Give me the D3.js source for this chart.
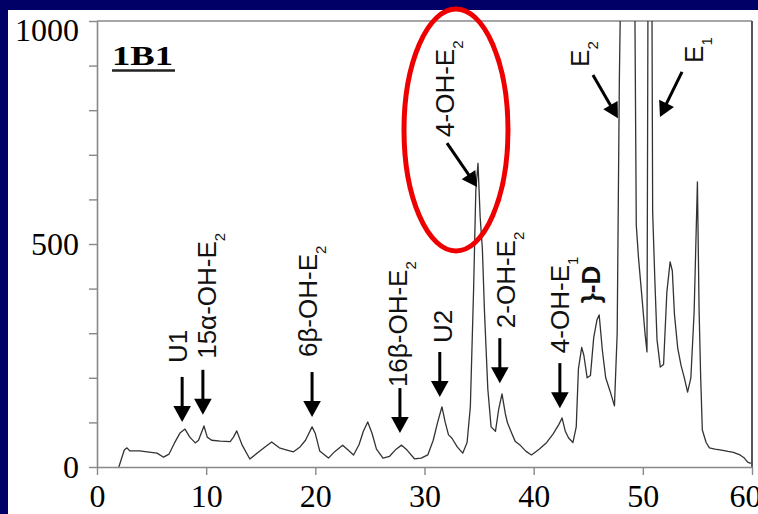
<!DOCTYPE html>
<html>
<head>
<meta charset="utf-8">
<script src="https://cdn.jsdelivr.net/npm/d3@7/dist/d3.min.js"></script>
<style>
  body { margin: 0; background: #000066; }
  svg { display: block; }
</style>
</head>
<body>
<div id="chart"></div>
<script>
// retention time (min) and detector signal
const times = [2.0, 2.5, 2.75, 3.0, 3.9, 4.6, 5.5, 6.1, 6.6, 7.1, 7.6, 8.06, 8.5, 9.0, 9.3, 9.8, 10.1, 10.5, 11.3, 12.2, 12.5, 12.8, 13.3, 14.0,
  15.3, 16.0, 16.7, 17.4, 18.0, 18.6, 19.1, 19.7, 20.0, 20.4, 21.2, 21.8, 22.5, 23.0, 23.5, 24.0, 24.4, 24.8, 25.2, 25.6, 26.2, 26.8,
  27.4, 27.9, 28.4, 29.1, 29.7, 30.3, 30.8, 31.2, 31.6, 31.9, 32.2, 32.5, 33.0, 33.5, 33.9, 34.2, 34.5, 34.7, 34.9, 35.1, 35.3, 35.5,
  35.8, 36.1, 36.5, 36.8, 37.1, 37.4, 37.6, 38.0, 38.3, 38.8, 39.3, 39.8, 40.5, 41.2, 41.8, 42.3, 42.6, 42.9, 43.2, 43.6, 43.9, 44.1,
  44.4, 44.6, 44.9, 45.2, 45.5, 45.8, 46.0, 46.3, 46.6, 47.0, 47.4, 47.65, 47.85, 48.1, 49.2, 49.4, 49.6, 49.9, 50.2, 50.38, 50.5, 50.8,
  50.9, 51.1, 51.3, 51.6, 51.9, 52.2, 52.5, 52.7, 52.9, 53.2, 53.5, 53.8, 54.1, 54.4, 54.7, 55.0, 55.15, 55.3, 55.45, 55.8, 56.1, 56.6,
  57.2, 57.8, 58.3, 58.9, 59.3, 59.6, 59.9];
const signal = [0, 38, 43, 36, 36, 34, 31, 22, 29, 54, 76, 85, 67, 54, 60, 92, 67, 60, 58, 57, 67, 81, 49, 18,
  43, 56, 43, 38, 34, 45, 60, 90, 75, 36, 20, 35, 49, 38, 27, 50, 80, 101, 75, 40, 20, 24,
  40, 49, 38, 18, 20, 27, 60, 100, 135, 100, 72, 65, 45, 31, 55, 135, 400, 620, 681, 560, 490, 345,
  175, 90, 80, 130, 164, 120, 99, 75, 58, 48, 35, 27, 40, 55, 75, 95, 110, 80, 65, 55, 90, 220,
  268, 250, 200, 205, 290, 330, 341, 260, 200, 170, 137, 300, 870, 1300, 1300, 542, 470, 386, 300, 258, 1300, 1300,
  572, 420, 285, 224, 230, 392, 460, 440, 341, 266, 228, 200, 168, 200, 348, 639, 356, 200, 83, 55, 43, 40,
  38, 35, 33, 27, 20, 11, 8];

const xTicks = [0, 10, 20, 30, 40, 50, 60];
const yTicks = [0, 100, 200, 300, 400, 500, 600, 700, 800, 900, 1000];
const yLabels = [0, 500, 1000];

// small peaks marked with a vertical arrow
const peakNames = ["U1", "15α-OH-E", "6β-OH-E", "16β-OH-E", "U2", "2-OH-E", "4-OH-E"];
const peakSubs = ["", "2", "2", "2", "", "2", "1"];
const peakTimes = [7.8, 9.7, 19.7, 27.75, 31.4, 36.9, 42.4];
const peakTips = [101, 117, 112, 76, 157, 188, 132];
const peakTextTimes = [7.37, 10.08, 19.28, 27.57, 31.7, 37.46, 42.4];
const peakGaps = [14, 11, 15, 1, 9, 10, 10];

// big peaks marked with a slanted arrow: label, sub, text time, text bottom, arrow tail, arrow tip
const bigNames = ["4-OH-E", "E", "E"];
const bigSubs = ["2", "2", "1"];
const bigTextTimes = [31.88, 44.24, 54.69];
const bigTextBottoms = [740, 897, 906];
const bigTails = [[32.06, 726], [45.43, 879], [53.59, 886]];
const bigTips = [[34.81, 628], [47.72, 782], [51.57, 785]];

const W = 758, H = 514;
const margin = { top: 21, right: 6, bottom: 47, left: 97 },
    width = W - margin.left - margin.right,
    height = H - margin.top - margin.bottom;

const svg = d3.select("#chart").append("svg")
    .attr("width", W)
    .attr("height", H);

// white slide panel
svg.append("rect")
    .attr("x", 8).attr("y", 10)
    .attr("width", W - 8).attr("height", H - 10)
    .attr("fill", "#fff");

const g = svg.append("g")
    .attr("transform", "translate(" + margin.left + "," + margin.top + ")");

const x = d3.scaleLinear().domain([0, 60]).range([0, width]);
const y = d3.scaleLinear().domain([0, 1000]).range([height, 0]);

g.append("clipPath").attr("id", "plot")
  .append("rect").attr("width", width).attr("height", height);

// frame
g.append("line").attr("x1", 0).attr("x2", width).attr("y1", 0).attr("y2", 0)
    .attr("stroke", "#888").attr("stroke-width", 1.5);
g.append("line").attr("x1", width).attr("x2", width).attr("y1", 0).attr("y2", height)
    .attr("stroke", "#555").attr("stroke-width", 2);

// chromatogram trace
const data = times.map((t, i) => ({ t: t, v: signal[i] }));
const line = d3.line()
    .x(d => x(d.t))
    .y(d => y(d.v));
g.append("path")
    .datum(data)
    .attr("clip-path", "url(#plot)")
    .attr("fill", "none")
    .attr("stroke", "#333")
    .attr("stroke-width", 1.3)
    .attr("stroke-linejoin", "round")
    .attr("d", line);

// axes
const xAxis = g.append("g")
    .attr("transform", "translate(0," + height + ")")
    .call(d3.axisBottom(x).tickValues(xTicks).tickSize(8).tickPadding(9).tickSizeOuter(0));
const yAxis = g.append("g")
    .call(d3.axisLeft(y).tickValues(yTicks).tickSize(8).tickPadding(10).tickSizeOuter(0)
        .tickFormat(d => yLabels.includes(d) ? d : ""));

[xAxis, yAxis].forEach(a => {
    a.select(".domain").attr("stroke", "#888").attr("stroke-width", 1.6);
    a.selectAll(".tick line").attr("stroke", "#888").attr("stroke-width", 1.4);
    a.selectAll("text")
        .attr("fill", "#000")
        .style("font-family", "'Liberation Serif', 'Times New Roman', serif")
        .style("font-size", "32px");
});
xAxis.selectAll(".tick text").filter(d => d === 60).attr("dx", -7);
yAxis.selectAll(".tick text").filter(d => d === 1000).attr("dy", "0.62em");

// panel id
svg.append("text")
    .attr("x", 112).attr("y", 65)
    .attr("textLength", 61).attr("lengthAdjust", "spacingAndGlyphs")
    .style("font-family", "'Liberation Serif', 'Times New Roman', serif")
    .style("font-weight", "bold")
    .style("font-size", "27px")
    .text("1B1");
svg.append("line")
    .attr("x1", 112).attr("x2", 175).attr("y1", 70.5).attr("y2", 70.5)
    .attr("stroke", "#222").attr("stroke-width", 2.5);

// rotated label helper (reads bottom to top)
const fs = 26;
function vlabel(name, sub, cx, bottom, bold) {
    const t = g.append("text")
        .attr("transform", "translate(" + (cx + fs * 0.36) + "," + bottom + ") rotate(-90)")
        .style("font-family", "'Liberation Sans', Arial, sans-serif")
        .style("font-size", fs + "px")
        .style("font-weight", bold ? "bold" : "normal")
        .attr("fill", "#111");
    t.append("tspan").text(name);
    if (sub) t.append("tspan").attr("dy", 9).style("font-size", "15px").text(sub);
}

function arrowHead(x1, y1, x2, y2, size) {
    const a = Math.atan2(y2 - y1, x2 - x1);
    const w = size * 0.55;
    const bx = x2 - size * Math.cos(a), by = y2 - size * Math.sin(a);
    return [[x2, y2],
        [bx + w * Math.sin(a), by - w * Math.cos(a)],
        [bx - w * Math.sin(a), by + w * Math.cos(a)]];
}

function arrow(x1, y1, x2, y2, size) {
    const head = arrowHead(x1, y1, x2, y2, size);
    const a = Math.atan2(y2 - y1, x2 - x1);
    g.append("line")
        .attr("x1", x1).attr("y1", y1)
        .attr("x2", x2 - (size - 2) * Math.cos(a)).attr("y2", y2 - (size - 2) * Math.sin(a))
        .attr("stroke", "#000").attr("stroke-width", 3);
    g.append("path")
        .attr("d", "M" + head.join("L") + "Z")
        .attr("fill", "#000");
}

const arrowLen = 45;
peakNames.forEach((name, i) => {
    const ax = x(peakTimes[i]);
    const tip = y(peakTips[i]);
    arrow(ax, tip - arrowLen, ax, tip, 16);
    vlabel(name, peakSubs[i], x(peakTextTimes[i]), tip - arrowLen - peakGaps[i], false);
});

// the "}-D" mark next to 4-OH-E1
vlabel("}-D", "", x(45.2), y(367), true);

bigNames.forEach((name, i) => {
    vlabel(name, bigSubs[i], x(bigTextTimes[i]), y(bigTextBottoms[i]), false);
    arrow(x(bigTails[i][0]), y(bigTails[i][1]), x(bigTips[i][0]), y(bigTips[i][1]), 15);
});

// red highlight around 4-OH-E2
svg.append("ellipse")
    .attr("cx", 456).attr("cy", 130)
    .attr("rx", 52).attr("ry", 121)
    .attr("fill", "none")
    .attr("stroke", "#ee0000")
    .attr("stroke-width", 5);
</script>
</body>
</html>
